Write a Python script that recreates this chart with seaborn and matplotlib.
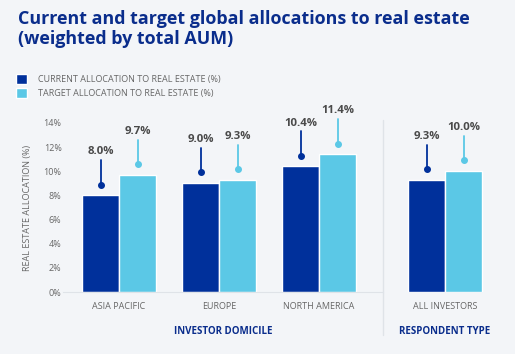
import matplotlib
matplotlib.use("Agg")
import matplotlib.pyplot as plt
from matplotlib.patches import Patch
from matplotlib.lines import Line2D
import pandas as pd
import seaborn as sns

# data
domicile = ["ASIA PACIFIC", "EUROPE", "NORTH AMERICA"]
respondent = ["ALL INVESTORS"]
current_dom = [8.0, 9.0, 10.4]
target_dom = [9.7, 9.3, 11.4]
current_resp = [9.3]
target_resp = [10.0]
series = ["CURRENT ALLOCATION TO REAL ESTATE (%)", "TARGET ALLOCATION TO REAL ESTATE (%)"]
yticks = [0, 2, 4, 6, 8, 10, 12, 14]

DARK = "#00309b"
LIGHT = "#5bc8e6"
BG = "#f3f5f8"
TITLE = "#0a2d8c"
GREY = "#666666"

sns.set_style("white")
plt.rcParams["font.family"] = ["Open Sans", "DejaVu Sans"]


def frame(cats, cur, tgt):
    return pd.DataFrame({
        "cat": cats * 2,
        "val": cur + tgt,
        "series": [series[0]] * len(cats) + [series[1]] * len(cats),
    })


fig = plt.figure(figsize=(5.22, 3.54), dpi=100)
fig.patch.set_facecolor("white")
fig.add_artist(plt.Rectangle((0, 0), 515 / 522, 1, transform=fig.transFigure,
                             facecolor=BG, edgecolor="none", zorder=-10))

ax1 = fig.add_axes([63 / 522, 1 - 292 / 354, 320 / 522, 169 / 354])
ax2 = fig.add_axes([383 / 522, 1 - 292 / 354, 132 / 522, 169 / 354])

pal = {series[0]: DARK, series[1]: LIGHT}
sns.barplot(data=frame(domicile, current_dom, target_dom), x="cat", y="val", hue="series",
            palette=pal, saturation=1, width=0.74, ax=ax1, legend=False)
sns.barplot(data=frame(respondent, current_resp, target_resp), x="cat", y="val", hue="series",
            palette=pal, saturation=1, width=0.74, ax=ax2, legend=False)

ax1.set_xlim(-0.56, 2.64)
ax2.set_xlim(-0.62, 0.70)
for ax in (ax1, ax2):
    ax.set_facecolor("none")
    ax.set_ylim(0, 14)
    ax.set_xlabel("")
    ax.set_ylabel("")
    for s in ax.spines.values():
        s.set_visible(False)
    ax.tick_params(axis="x", length=0, pad=7, labelsize=6.5, labelcolor=GREY)
    for cont, col in zip(ax.containers, (DARK, LIGHT)):
        for bar in cont:
            xc = bar.get_x() + bar.get_width() / 2
            v = bar.get_height()
            ax.plot([xc, xc], [v + 0.9, v + 2.9], color=col, lw=1.3, clip_on=False)
            ax.plot([xc], [v + 0.9], "o", color=col, ms=4, clip_on=False)
            ax.text(xc, v + 3.6, f"{v:.1f}%", ha="center", va="center",
                    fontsize=8.2, fontweight="bold", color="#4a4a4a", clip_on=False)

ax1.spines["bottom"].set_visible(True)
ax1.spines["bottom"].set_color("#dfe3e8")
ax1.set_yticks(yticks)
ax1.set_yticklabels([f"{t}%" for t in yticks])
ax1.tick_params(axis="y", length=0, pad=1, labelsize=6.5, labelcolor=GREY)
ax1.set_ylabel("REAL ESTATE ALLOCATION (%)", fontsize=6.5, color=GREY, labelpad=8)
ax2.set_yticks([])

fig.add_artist(Line2D([383 / 522, 383 / 522], [1 - 335 / 354, 1 - 120 / 354],
                      transform=fig.transFigure, color="#dfe3e8", lw=1))

fig.text(223 / 522, 1 - 331 / 354, "INVESTOR DOMICILE", ha="center", va="center",
         fontsize=7, fontweight="bold", color=TITLE)
fig.text(445 / 522, 1 - 331 / 354, "RESPONDENT TYPE", ha="center", va="center",
         fontsize=7, fontweight="bold", color=TITLE)

fig.text(18 / 522, 1 - 10 / 354, "Current and target global allocations to real estate\n(weighted by total AUM)",
         ha="left", va="top", fontsize=12.9, fontweight="bold", color=TITLE, linespacing=1.15)

handles = [Patch(facecolor=DARK), Patch(facecolor=LIGHT)]
fig.legend(handles, series, loc="upper left", bbox_to_anchor=(16 / 522, 1 - 74 / 354),
           frameon=False, fontsize=6.5, labelcolor=GREY, handlelength=1.2, handleheight=1.4,
           handletextpad=1.2, labelspacing=0.35, borderaxespad=0, borderpad=0)

fig.savefig("out.png", dpi=100, facecolor="white")
